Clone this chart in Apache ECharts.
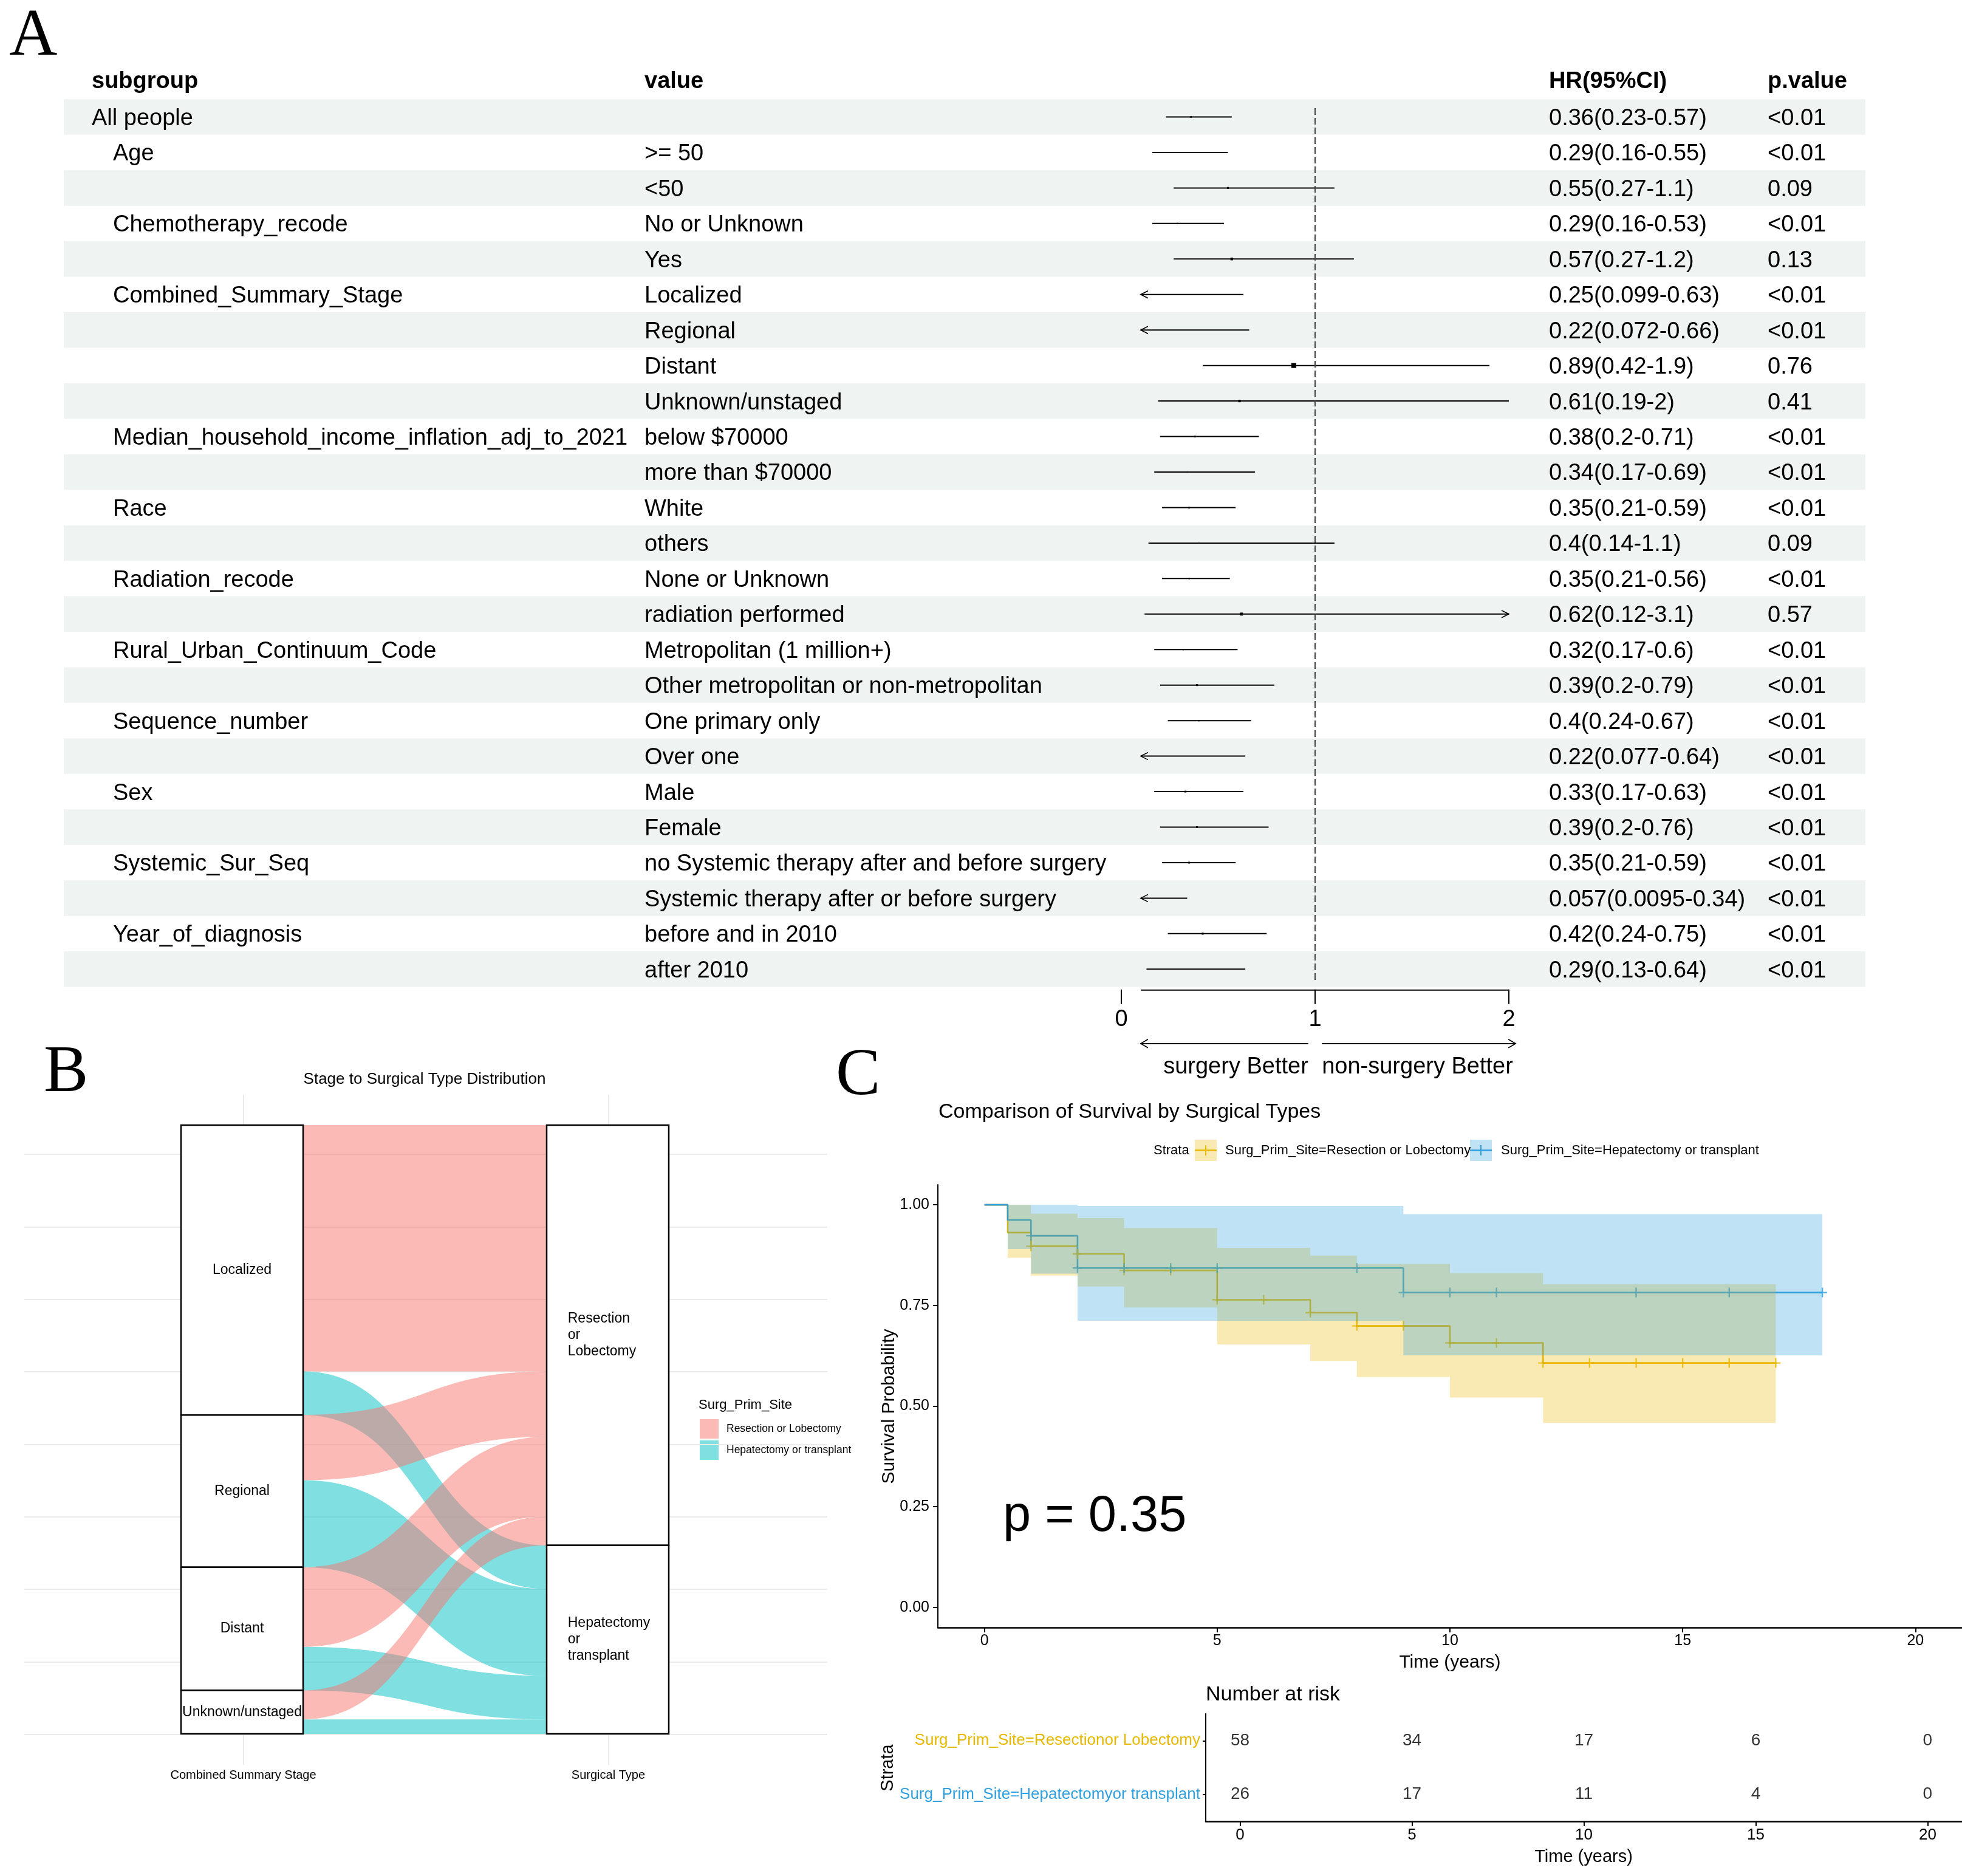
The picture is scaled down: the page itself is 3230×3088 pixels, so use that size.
<!DOCTYPE html>
<html><head><meta charset="utf-8">
<script src="https://cdn.jsdelivr.net/npm/echarts@6/dist/echarts.min.js"></script>
<style>html,body{margin:0;padding:0;background:#fff}#c{width:3230px;height:3088px}</style>
</head><body><div id="c"></div>
<script>
// ================= DATA =================
// Panel A: forest plot
const subgroups = ['All people','Age','','Chemotherapy_recode','','Combined_Summary_Stage','','','','Median_household_income_inflation_adj_to_2021','','Race','','Radiation_recode','','Rural_Urban_Continuum_Code','','Sequence_number','','Sex','','Systemic_Sur_Seq','','Year_of_diagnosis',''];
const levels = ['','>= 50','<50','No or Unknown','Yes','Localized','Regional','Distant','Unknown/unstaged','below $70000','more than $70000','White','others','None or Unknown','radiation performed','Metropolitan (1 million+)','Other metropolitan or non-metropolitan','One primary only','Over one','Male','Female','no Systemic therapy after and before surgery','Systemic therapy after or before surgery','before and in 2010','after 2010'];
const hr     = [0.36,0.29,0.55,0.29,0.57,0.25,0.22,0.89,0.61,0.38,0.34,0.35,0.4,0.35,0.62,0.32,0.39,0.4,0.22,0.33,0.39,0.35,0.057,0.42,0.29];
const ciLow  = [0.23,0.16,0.27,0.16,0.27,0.099,0.072,0.42,0.19,0.2,0.17,0.21,0.14,0.21,0.12,0.17,0.2,0.24,0.077,0.17,0.2,0.21,0.0095,0.24,0.13];
const ciHigh = [0.57,0.55,1.1,0.53,1.2,0.63,0.66,1.9,2,0.71,0.69,0.59,1.1,0.56,3.1,0.6,0.79,0.67,0.64,0.63,0.76,0.59,0.34,0.75,0.64];
const pValues = ['<0.01','<0.01','0.09','<0.01','0.13','<0.01','<0.01','0.76','0.41','<0.01','<0.01','<0.01','0.09','<0.01','0.57','<0.01','<0.01','<0.01','<0.01','<0.01','<0.01','<0.01','<0.01','<0.01','<0.01'];
const boxWeight = [1,0,1.2,0.8,1.6,0,0,3,1.5,1.1,0.8,1.1,0.8,0.8,1.8,0.8,1.1,0.8,0,1.1,1.1,1.1,0,1.2,0];
const forestHeader = ['subgroup','value','HR(95%CI)','p.value'];
const forestTicks = [0,1,2];
const forestClip = [0.1,2];
const favourLabels = ['surgery Better','non-surgery Better'];

// Panel B: alluvial (stage -> surgical type)
const stageNames = ['Localized','Regional','Distant','Unknown/unstaged'];
const surgNames = ['Resection or Lobectomy','Hepatectomy or transplant'];
const flowResection   = [34,9,11,4];
const flowHepatectomy = [6,12,6,2];
const alluvialAxes = ['Combined Summary Stage','Surgical Type'];

// Panel C: Kaplan-Meier
const strataNames = ['Surg_Prim_Site=Resection or Lobectomy','Surg_Prim_Site=Hepatectomy or transplant'];
const resTimes = [0,0.5,1,2,3,5,7,8,10,12,17];
const resSurv  = [1,0.931,0.897,0.878,0.837,0.764,0.732,0.699,0.657,0.607,0.607];
const resLow   = [1,0.868,0.824,0.797,0.745,0.653,0.612,0.572,0.521,0.458];
const resHigh  = [1,1.0,0.978,0.967,0.942,0.893,0.874,0.853,0.830,0.803];
const resCensor = [1,2,3,4,5,6,7,8,9,10,11,12,13,14,15,16,17];
const hepTimes = [0,0.5,1,2,9,18];
const hepSurv  = [1,0.962,0.923,0.843,0.782,0.782];
const hepLow   = [1,0.89,0.829,0.712,0.626];
const hepHigh  = [1,1,1,0.997,0.977];
const hepCensor = [1,2,3,4,5,8,9,10,11,14,16,18];
const kmXTicks = [0,5,10,15,20];
const kmYTicks = [0,0.25,0.5,0.75,1];
const kmPValue = 'p = 0.35';

// Risk table
const riskStrata = ['Surg_Prim_Site=Resectionor Lobectomy','Surg_Prim_Site=Hepatectomyor transplant'];
const riskTimes = [0,5,10,15,20];
const riskResection = [58,34,17,6,0];
const riskHepatectomy = [26,17,11,4,0];

// ================= STYLE / LAYOUT =================
const FONT = '"Liberation Sans", Arial, sans-serif';
const SERIF = '"Liberation Serif", "Times New Roman", serif';
const GOLD = '#E7B800', BLUE = '#2E9FDF', PINK = '#F8766D', CYAN = '#00BFC4';
const ROW_H = 58.45, ROW0 = 192.5, NROW = hr.length;
const F_MIN = -0.25, F_MAX = 24.35;
const COL = {sub0:151, sub1:186, val:1061, hr:2550, p:2910};
const AXIS_OFFSET = 14;

const hrText = hr.map((v,i)=> v + '(' + ciLow[i] + '-' + ciHigh[i] + ')');

function txt(x, y, text, size, opts) {
  opts = opts || {};
  return {type:'text', x:x, y:y, rotation: opts.rot || 0, z: 50,
    style:{text:text, font:(opts.bold?'bold ':'') + size + 'px ' + (opts.family || FONT), fill: opts.color || '#000',
      textAlign: opts.align || 'left', textVerticalAlign: opts.va || 'middle'}};
}
function chevron(x, y, dir, len, half, lw) {
  return {type:'polyline', shape:{points:[[x - dir*len, y - half],[x, y],[x - dir*len, y + half]]},
    style:{stroke:'#000', lineWidth: lw, fill:null}};
}

// ---------- render functions ----------
function renderBands(params, api) {
  const i = api.value(0);
  if (i % 2 === 1) return null;
  const c = api.coord([0, i]);
  const h = api.size([0, 1])[1];
  const cs = params.coordSys;
  return {type:'rect', shape:{x:cs.x, y:c[1]-h/2, width:cs.width, height:h}, style:{fill:'#EFF3F2'}};
}
function renderTableText(params, api) {
  const i = api.value(0);
  const y = api.coord([0, i])[1] + 3;
  const mk = (t, x) => ({type:'text', x:x, y:y, style:{text:t, font:'38px ' + FONT, fill:'#000', textAlign:'left', textVerticalAlign:'middle'}});
  return {type:'group', children:[
    mk(subgroups[i], i === 0 ? COL.sub0 : COL.sub1), mk(levels[i], COL.val), mk(hrText[i], COL.hr), mk(pValues[i], COL.p)
  ]};
}
function renderCI(params, api) {
  const i = api.value(0), est = api.value(1), lo = api.value(2), hi = api.value(3), w = api.value(4);
  const x0 = Math.max(lo, forestClip[0]), x1 = Math.min(hi, forestClip[1]);
  const a = api.coord([x0, i]), b = api.coord([x1, i]);
  const ch = [{type:'line', shape:{x1:a[0], y1:a[1], x2:b[0], y2:b[1]}, style:{stroke:'#000', lineWidth:2}}];
  if (lo < forestClip[0]) ch.push(chevron(a[0], a[1], -1, 12, 6, 1.6));
  if (hi > forestClip[1]) ch.push(chevron(b[0], b[1], 1, 12, 6, 1.6));
  if (est >= forestClip[0] && est <= forestClip[1] && w > 0) {
    const p = api.coord([est, i]); const s = w * 2.7;
    ch.push({type:'rect', shape:{x:p[0]-s/2, y:p[1]-s/2, width:s, height:s}, style:{fill:'#000'}});
  }
  return {type:'group', children:ch};
}
function renderForestAxis(params, api) {
  const cs = params.coordSys;
  const yAx = cs.y + cs.height + AXIS_OFFSET;
  const xa = api.coord([forestClip[0], 0])[0], xb = api.coord([forestClip[1], 0])[0];
  const yArr = yAx + 88;
  const l1 = api.coord([0.965, 0])[0];
  const r0 = api.coord([1.035, 0])[0], r1 = api.coord([2.035, 0])[0];
  const yTxt = yAx + 127;
  const ch = [
    {type:'line', shape:{x1:xa, y1:yAx, x2:xb, y2:yAx}, style:{stroke:'#000', lineWidth:2}},
    {type:'line', shape:{x1:xa, y1:yArr, x2:l1, y2:yArr}, style:{stroke:'#000', lineWidth:1.6}},
    chevron(xa, yArr, -1, 12, 7, 1.6),
    {type:'line', shape:{x1:r0, y1:yArr, x2:r1, y2:yArr}, style:{stroke:'#000', lineWidth:1.6}},
    chevron(r1, yArr, 1, 12, 7, 1.6),
    {type:'text', x:l1, y:yTxt, style:{text:favourLabels[0], font:'38px ' + FONT, fill:'#000', textAlign:'right', textVerticalAlign:'middle'}},
    {type:'text', x:r0, y:yTxt, style:{text:favourLabels[1], font:'38px ' + FONT, fill:'#000', textAlign:'left', textVerticalAlign:'middle'}}
  ];
  forestTicks.forEach(t => {
    const x = api.coord([t, 0])[0];
    ch.push({type:'line', shape:{x1:x, y1:yAx - 1, x2:x, y2:yAx + 23}, style:{stroke:'#000', lineWidth:2}});
  });
  return {type:'group', children:ch};
}
function bandRenderer(color) {
  return function(params, api) {
    const t0 = api.value(0), t1 = api.value(1), lo = api.value(2), hi = api.value(3);
    if (hi - lo <= 0) return null;
    const a = api.coord([t0, hi]), b = api.coord([t1, lo]);
    return {type:'rect', shape:{x:a[0], y:a[1], width:b[0]-a[0], height:b[1]-a[1]}, style:{fill:color, opacity:0.3}};
  };
}
function survAt(times, surv, t) { let s = surv[0]; for (let k = 0; k < times.length; k++) if (times[k] <= t) s = surv[k]; return s; }
function bandData(times, lo, hi) { return lo.map((v,k)=>[times[k], times[k+1], v, hi[k]]); }
function lineData(times, surv) { return times.map((t,k)=>[t, surv[k]]); }
function censorData(times, surv, cens) { return cens.map(t=>[t, survAt(times, surv, t)]); }
const CROSS = 'path://M-1.5,-10H1.5V-1.5H10V1.5H1.5V10H-1.5V1.5H-10V-1.5H-1.5Z';

// ---------- sankey nodes / links ----------
const sankeyNodes = stageNames.map(n => ({name:n, label:{position:'inside', align:'center'}}))
  .concat(surgNames.map(n => ({name:n, label:{position:'insideLeft', distance:36, align:'left', formatter: n.split(' ').join('\n'), lineHeight:27}})));
const sankeyLinks = [];
stageNames.forEach((s, i) => {
  sankeyLinks.push({source:s, target:surgNames[0], value:flowResection[i], lineStyle:{color:PINK}});
  sankeyLinks.push({source:s, target:surgNames[1], value:flowHepatectomy[i], lineStyle:{color:CYAN}});
});

// ---------- risk table data ----------
const riskData = [];
riskTimes.forEach((t,k)=>{ riskData.push([t, 0, riskResection[k]]); riskData.push([t, 1, riskHepatectomy[k]]); });

const rowIdx = hr.map((v,i)=>i);
const tableTop = ROW0 - ROW_H/2;

const option = {
  animation:false,
  backgroundColor:'#fff',
  textStyle:{fontFamily:FONT},
  grid:[
    {left:105, top:tableTop, width:2966, height:ROW_H*NROW},                               // 0 table bands
    {left:1846, top:ROW0 + F_MIN*ROW_H, width:638, height:(F_MAX-F_MIN)*ROW_H},             // 1 forest
    {left:1544, top:1950, width:1686, height:729},                                          // 2 KM
    {left:1985, top:2821, width:1245, height:177},                                          // 3 risk table
    {left:40, top:1802, width:1322, height:1103}                                            // 4 alluvial background
  ],
  xAxis:[
    {gridIndex:0, type:'value', min:0, max:1, show:false},
    {gridIndex:1, type:'value', min:0, max:2, interval:1, offset:AXIS_OFFSET,
      axisLine:{show:false}, splitLine:{show:false}, axisTick:{show:false},
      axisLabel:{fontSize:38, color:'#000', margin:30, fontFamily:FONT, customValues:forestTicks}},
    {gridIndex:2, type:'value', min:-1, max:21, splitLine:{show:false},
      axisLine:{show:true, onZero:false, lineStyle:{color:'#000', width:2.5}},
      axisTick:{show:true, length:8, lineStyle:{color:'#000', width:2}, customValues:kmXTicks},
      axisLabel:{fontSize:25, color:'#000', margin:10, fontFamily:FONT, customValues:kmXTicks}},
    {gridIndex:3, type:'value', min:-1, max:21, splitLine:{show:false},
      axisLine:{show:true, onZero:false, lineStyle:{color:'#000', width:2.5}},
      axisTick:{show:true, length:8, lineStyle:{color:'#000', width:2}, customValues:riskTimes},
      axisLabel:{fontSize:26, color:'#000', margin:10, fontFamily:FONT, customValues:riskTimes}},
    {gridIndex:4, type:'value', min:0.4, max:2.6,
      axisLine:{show:false}, axisTick:{show:false, customValues:[1,2]},
      splitLine:{show:true, lineStyle:{color:'#EBEBEB', width:2}},
      axisLabel:{fontSize:20, color:'#000', margin:7, fontFamily:FONT, customValues:[1,2], formatter:v=>alluvialAxes[Math.round(v)-1]}}
  ],
  yAxis:[
    {gridIndex:0, type:'category', data:rowIdx, inverse:true, show:false},
    {gridIndex:1, type:'value', min:F_MIN, max:F_MAX, inverse:true, show:false},
    {gridIndex:2, type:'value', min:-0.05, max:1.05, splitLine:{show:false},
      axisLine:{show:true, onZero:false, lineStyle:{color:'#000', width:2}},
      axisTick:{show:true, length:8, lineStyle:{color:'#000', width:2}, customValues:kmYTicks},
      axisLabel:{fontSize:25, color:'#000', margin:14, fontFamily:FONT, customValues:kmYTicks, formatter:v=>v.toFixed(2)}},
    {gridIndex:3, type:'category', data:riskStrata, inverse:true,
      axisLine:{show:true, onZero:false, lineStyle:{color:'#000', width:2}},
      axisTick:{show:true, alignWithLabel:true, length:5, lineStyle:{color:'#000', width:2}},
      axisLabel:{margin:9, fontFamily:FONT, fontSize:26,
        formatter:(v,i)=> '{s' + i + '|' + v + '}',
        rich:{s0:{color:GOLD, fontSize:26, fontFamily:FONT}, s1:{color:BLUE, fontSize:26, fontFamily:FONT}}}},
    {gridIndex:4, type:'value', min:-4.2, max:88.2,
      axisLine:{show:false}, axisTick:{show:false, customValues:[0,10,20,30,40,50,60,70,80]}, axisLabel:{show:false},
      splitLine:{show:true, lineStyle:{color:'#EBEBEB', width:2}}}
  ],
  series:[
    // Panel A
    {type:'custom', name:'bands', xAxisIndex:0, yAxisIndex:0, z:1, silent:true,
      data:rowIdx.map(i=>[0, i]), encode:{x:0, y:1},
      renderItem:(p, api)=>{ const i = api.value(1); return renderBands(p, {value:()=>i, coord:api.coord, size:api.size}); }},
    {type:'custom', name:'tableText', xAxisIndex:1, yAxisIndex:1, z:3, silent:true,
      data:rowIdx.map(i=>[0, i]), encode:{x:0, y:1},
      renderItem:(p, api)=>{ const i = api.value(1); return renderTableText(p, {value:()=>i, coord:api.coord}); }},
    {type:'custom', name:'ci', xAxisIndex:1, yAxisIndex:1, z:4, silent:true, clip:false,
      data:hr.map((v,i)=>[i, v, ciLow[i], ciHigh[i], boxWeight[i]]), encode:{x:[1,2,3], y:0},
      renderItem:renderCI,
      markLine:{silent:true, symbol:'none', label:{show:false},
        lineStyle:{color:'#444', width:2, type:[11,5]}, data:[{xAxis:1}]}},
    {type:'custom', name:'forestAxis', xAxisIndex:1, yAxisIndex:1, z:4, silent:true, clip:false,
      data:[[1, 0]], encode:{x:0, y:1}, renderItem:renderForestAxis},
    // Panel B
    {type:'line', xAxisIndex:4, yAxisIndex:4, data:[], silent:true},
    {type:'sankey', left:298, top:1852, width:803, height:1002, nodeWidth:201, nodeGap:0,
      layoutIterations:0, draggable:false, silent:true, z:3,
      emphasis:{disabled:true},
      itemStyle:{color:'#fff', borderColor:'#000', borderWidth:2.5},
      lineStyle:{opacity:0.5, curveness:0.5},
      label:{show:true, color:'#000', fontSize:23, fontFamily:FONT, textBorderWidth:0},
      data:sankeyNodes, links:sankeyLinks},
    // Panel C: KM
    {type:'line', name:strataNames[0], xAxisIndex:2, yAxisIndex:2, step:'end', showSymbol:false, z:2, silent:true,
      lineStyle:{color:GOLD, width:2.6}, itemStyle:{color:GOLD}, data:lineData(resTimes, resSurv)},
    {type:'line', name:strataNames[1], xAxisIndex:2, yAxisIndex:2, step:'end', showSymbol:false, z:2, silent:true,
      lineStyle:{color:BLUE, width:2.6}, itemStyle:{color:BLUE}, data:lineData(hepTimes, hepSurv)},
    {type:'scatter', xAxisIndex:2, yAxisIndex:2, symbol:CROSS, symbolSize:16, z:3, silent:true,
      itemStyle:{color:GOLD}, data:censorData(resTimes, resSurv, resCensor)},
    {type:'scatter', xAxisIndex:2, yAxisIndex:2, symbol:CROSS, symbolSize:16, z:3, silent:true,
      itemStyle:{color:BLUE}, data:censorData(hepTimes, hepSurv, hepCensor)},
    {type:'custom', xAxisIndex:2, yAxisIndex:2, z:5, silent:true,
      data:bandData(resTimes, resLow, resHigh), encode:{x:[0,1], y:[2,3]}, renderItem:bandRenderer(GOLD)},
    {type:'custom', xAxisIndex:2, yAxisIndex:2, z:5, silent:true,
      data:bandData(hepTimes, hepLow, hepHigh), encode:{x:[0,1], y:[2,3]}, renderItem:bandRenderer(BLUE)},
    // Risk table
    {type:'scatter', xAxisIndex:3, yAxisIndex:3, symbolSize:1, silent:true,
      itemStyle:{color:'rgba(0,0,0,0)'},
      label:{show:true, position:'inside', formatter:p=>String(p.value[2]), fontSize:28, color:'#000', fontFamily:FONT},
      data:riskData}
  ],
  graphic:{elements:[
    // panel letters
    txt(15, 61, 'A', 110, {family:SERIF}),
    txt(72, 1767, 'B', 110, {family:SERIF}),
    txt(1376, 1772, 'C', 110, {family:SERIF}),
    // forest header
    txt(COL.sub0, 135, forestHeader[0], 38, {bold:true}),
    txt(COL.val, 135, forestHeader[1], 38, {bold:true}),
    txt(COL.hr, 135, forestHeader[2], 38, {bold:true}),
    txt(COL.p, 135, forestHeader[3], 38, {bold:true}),
    // panel B
    txt(699, 1777, 'Stage to Surgical Type Distribution', 26, {align:'center'}),
    txt(1150, 2313, 'Surg_Prim_Site', 22),
    {type:'rect', shape:{x:1152, y:2336, width:31, height:32}, style:{fill:PINK, opacity:0.5}},
    {type:'rect', shape:{x:1152, y:2371, width:31, height:32}, style:{fill:CYAN, opacity:0.5}},
    txt(1196, 2352, surgNames[0], 17.5),
    txt(1196, 2387, surgNames[1], 17.5),
    // panel C
    txt(1545, 1831, 'Comparison of Survival by Surgical Types', 34),
    txt(1899, 1894, 'Strata', 22),
    {type:'rect', shape:{x:1967, y:1876, width:36, height:35}, style:{fill:GOLD, opacity:0.3}},
    {type:'line', shape:{x1:1967, y1:1893.5, x2:2003, y2:1893.5}, style:{stroke:GOLD, lineWidth:2.6}},
    {type:'line', shape:{x1:1985, y1:1885, x2:1985, y2:1902}, style:{stroke:GOLD, lineWidth:2}},
    txt(2017, 1894, strataNames[0], 22),
    {type:'rect', shape:{x:2420, y:1876, width:36, height:35}, style:{fill:BLUE, opacity:0.3}},
    {type:'line', shape:{x1:2420, y1:1893.5, x2:2456, y2:1893.5}, style:{stroke:BLUE, lineWidth:2.6}},
    {type:'line', shape:{x1:2438, y1:1885, x2:2438, y2:1902}, style:{stroke:BLUE, lineWidth:2}},
    txt(2471, 1894, strataNames[1], 22),
    txt(1464, 2315, 'Survival Probability', 30, {align:'center', rot:Math.PI/2}),
    txt(2387, 2737, 'Time (years)', 30, {align:'center'}),
    txt(1651, 2497, kmPValue, 83),
    // risk table
    txt(1985, 2790, 'Number at risk', 34),
    txt(1462, 2910, 'Strata', 29, {align:'center', rot:Math.PI/2}),
    txt(2607, 3057, 'Time (years)', 29, {align:'center'})
  ]}
};

const chart = echarts.init(document.getElementById('c'), null, {renderer:'canvas', width:3230, height:3088, devicePixelRatio:1});
chart.setOption(option);
</script>
</body></html>
